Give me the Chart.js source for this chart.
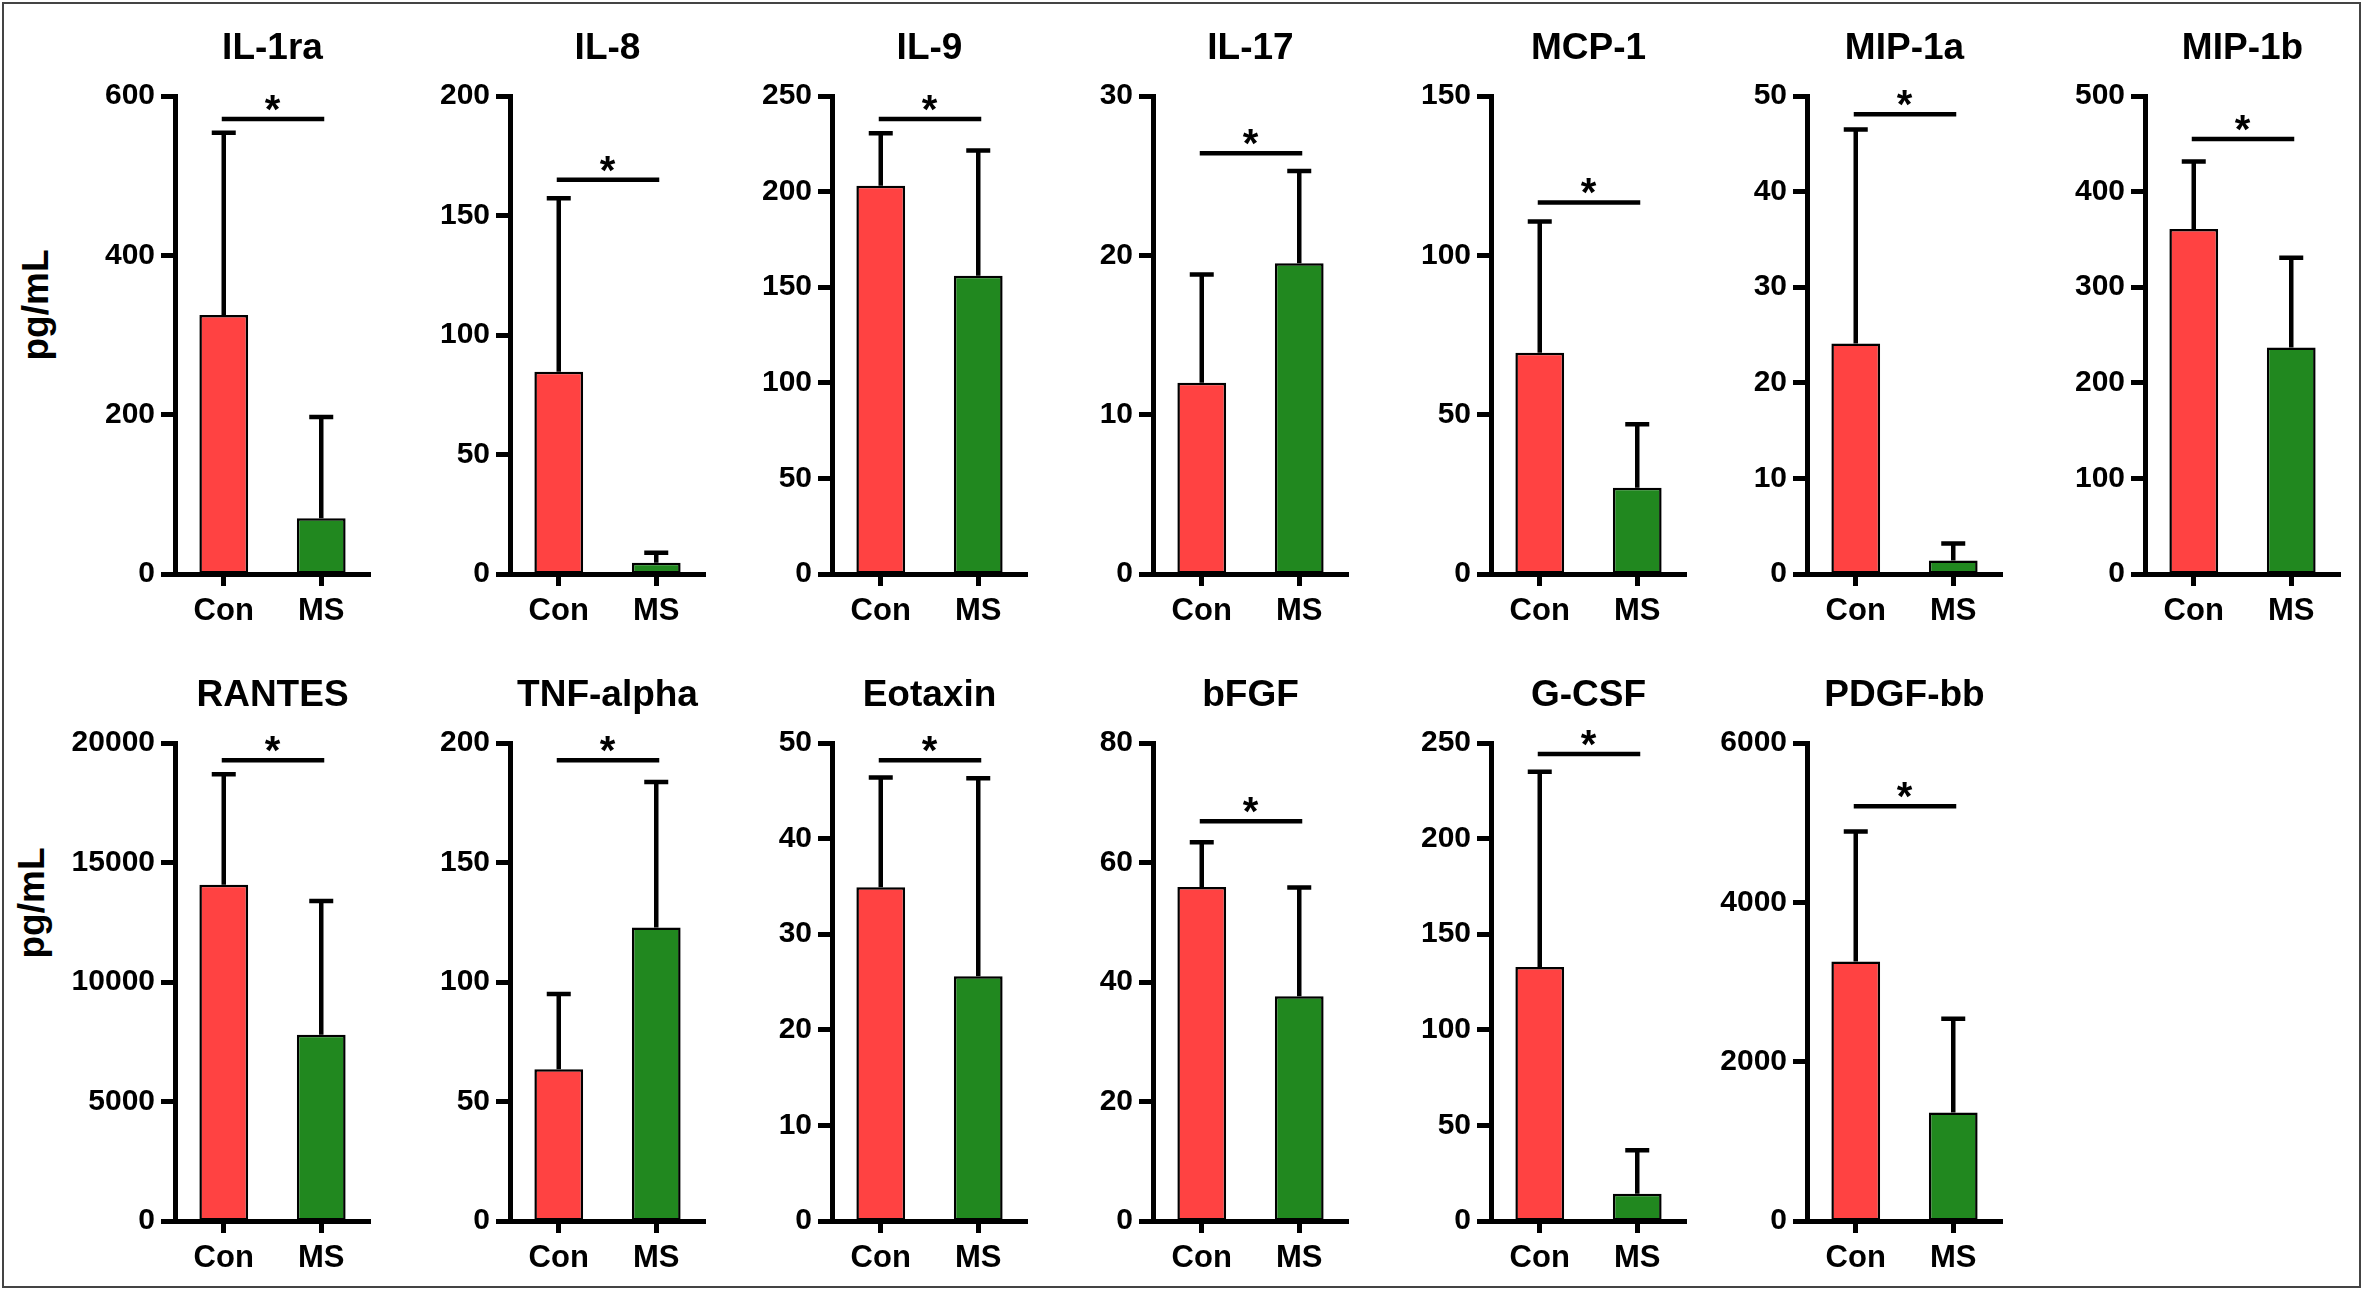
<!DOCTYPE html>
<html>
<head>
<meta charset="utf-8">
<title>Cytokines Con vs MS</title>
<script src="https://cdn.jsdelivr.net/npm/chart.js@4.4.1/dist/chart.umd.min.js"></script>
<style>
  html, body { margin: 0; padding: 0; background: #fff; }
  #figure { position: relative; width: 2362px; height: 1292px; overflow: hidden; }
  #frame { position: absolute; left: 2px; top: 2px; width: 2355px; height: 1282px; border: 2px solid #444; }
  #figure canvas { position: absolute; }
  .ylab {
    position: absolute;
    font: bold 37px "Liberation Sans", Arial, sans-serif;
    color: #000;
    white-space: nowrap;
    transform: translate(-50%, -50%) rotate(-90deg);
  }
</style>
</head>
<body>
<div id="figure">
  <div id="frame"></div>
  <div class="ylab" style="left:36px; top:305px;">pg/mL</div>
  <div class="ylab" style="left:32px; top:903px;">pg/mL</div>
</div>

<script>
// values (mean bars, SD whiskers, height of the "*" bracket)
const titles = ['IL-1ra', 'IL-8', 'IL-9', 'IL-17', 'MCP-1', 'MIP-1a', 'MIP-1b',
                'RANTES', 'TNF-alpha', 'Eotaxin', 'bFGF', 'G-CSF', 'PDGF-bb'];
const groups = ['Con', 'MS'];
const conMean = [325, 84.6, 203, 12.0, 69.4, 24.1, 361, 14070, 63.5, 34.9, 55.9, 132.9, 3258];
const msMean  = [70, 4.7, 156, 19.5, 27.1, 1.4, 237, 7790, 122.8, 25.6, 37.6, 14.2, 1363];
const conSD   = [229, 72.6, 27.5, 6.8, 41.2, 22.4, 70.4, 4620, 31.5, 11.5, 7.5, 102.1, 1632];
const msSD    = [127, 4.2, 65.5, 5.8, 19.9, 1.8, 93.9, 5600, 60.9, 20.7, 18.2, 22.8, 1175];
const sigLevel = [571, 165, 238, 26.4, 116.6, 48.1, 455, 19280, 192.8, 48.2, 66.9, 244.2, 5207];
const yMax  = [600, 200, 250, 30, 150, 50, 500, 20000, 200, 50, 80, 250, 6000];
const yStep = [200, 50, 50, 10, 50, 10, 100, 5000, 50, 10, 20, 50, 2000];

// layout
const axisX = [175, 510, 832, 1153, 1491, 1807, 2145];
const rowTop = [0, 647];
const AXIS_W = 120;      // room for y ticks + labels
const PLOT_W = 195;
const CANVAS_W = 335;
const CANVAS_H = 634;
const RED = '#ff4242';
const GREEN = '#21881f';
const FONT = '"Liberation Sans", Arial, sans-serif';

Chart.defaults.font.family = FONT;
Chart.defaults.color = '#000';

// whiskers (mean + SD) and the significance bracket with its star
const errorBars = {
  id: 'errorBars',
  afterDatasetsDraw(chart, args, opts) {
    const ctx = chart.ctx;
    const y = chart.scales.y;
    const bars = chart.getDatasetMeta(0).data;
    ctx.save();
    ctx.strokeStyle = '#000';
    ctx.lineWidth = 4.5;
    ctx.lineCap = 'butt';
    bars.forEach((bar, k) => {
      const top = y.getPixelForValue(opts.means[k] + opts.sds[k]);
      ctx.beginPath();
      ctx.moveTo(bar.x, bar.y);
      ctx.lineTo(bar.x, top);
      ctx.moveTo(bar.x - 12, top);
      ctx.lineTo(bar.x + 12, top);
      ctx.stroke();
    });

    const ly = y.getPixelForValue(opts.sig);
    ctx.beginPath();
    ctx.moveTo(bars[0].x - 2, ly);
    ctx.lineTo(bars[1].x + 3, ly);
    ctx.stroke();

    ctx.fillStyle = '#000';
    ctx.font = 'bold 40px ' + FONT;
    ctx.textAlign = 'center';
    ctx.textBaseline = 'alphabetic';
    ctx.fillText('*', (bars[0].x + bars[1].x) / 2, ly + 4);
    ctx.restore();
  }
};

function makePanel(i, col, row) {
  const canvas = document.createElement('canvas');
  canvas.width = CANVAS_W;
  canvas.height = CANVAS_H;
  canvas.style.left = (axisX[col] - AXIS_W) + 'px';
  canvas.style.top = rowTop[row] + 'px';
  document.getElementById('figure').appendChild(canvas);

  new Chart(canvas, {
    type: 'bar',
    data: {
      labels: groups,
      datasets: [{
        data: [conMean[i], msMean[i]],
        backgroundColor: [RED, GREEN],
        borderColor: '#000',
        borderWidth: 2.5,
        borderSkipped: false,
        categoryPercentage: 1,
        barPercentage: 0.5
      }]
    },
    options: {
      responsive: false,
      animation: false,
      events: [],
      layout: { padding: { left: 0, right: CANVAS_W - AXIS_W - PLOT_W, top: 0, bottom: 0 } },
      plugins: {
        legend: { display: false },
        tooltip: { enabled: false },
        title: {
          display: true,
          text: titles[i],
          fullSize: false,
          color: '#000',
          font: { size: 37, weight: 'bold' },
          padding: { top: 27, bottom: 24.6 }
        },
        errorBars: { means: [conMean[i], msMean[i]], sds: [conSD[i], msSD[i]], sig: sigLevel[i] }
      },
      scales: {
        x: {
          grid: { display: true, drawOnChartArea: false, drawTicks: true, tickLength: 12, tickWidth: 5, tickColor: '#000', offset: false },
          border: { display: true, color: '#000', width: 5, z: 1 },
          ticks: { color: '#000', font: { size: 31, weight: 'bold' }, padding: 7, maxRotation: 0 },
          afterFit(scale) { scale.height = CANVAS_H - 96 - 478; }
        },
        y: {
          min: 0,
          max: yMax[i],
          grid: { display: true, drawOnChartArea: false, drawTicks: true, tickLength: 14, tickWidth: 5, tickColor: '#000' },
          border: { display: true, color: '#000', width: 5 },
          ticks: {
            stepSize: yStep[i],
            color: '#000',
            font: { size: 30, weight: 'bold' },
            padding: 6,
            callback: v => String(v)
          },
          afterFit(scale) { scale.width = AXIS_W; }
        }
      }
    },
    plugins: [errorBars]
  });
}

for (let i = 0; i < titles.length; i++) {
  const row = i < 7 ? 0 : 1;
  const col = i < 7 ? i : i - 7;
  makePanel(i, col, row);
}
</script>
</body>
</html>
